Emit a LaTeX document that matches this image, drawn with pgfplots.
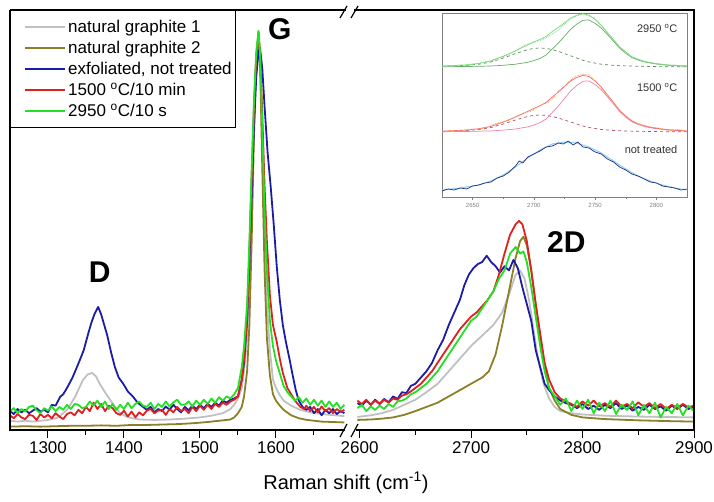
\documentclass[border=0pt]{standalone}
\usepackage{pgfplots}
\pgfplotsset{compat=1.18}
\usepackage{fontspec}
\setmainfont{Liberation Sans}
\definecolor{cGray}{HTML}{C0C0C0}
\definecolor{cOlive}{HTML}{8B8027}
\definecolor{cBlue}{HTML}{1C1CA8}
\definecolor{cRed}{HTML}{E02020}
\definecolor{cGreen}{HTML}{22E022}
\definecolor{iBlueD}{HTML}{203080}
\definecolor{iBlueL}{HTML}{8FD0F0}
\definecolor{iOrange}{HTML}{F0A040}
\definecolor{iPink}{HTML}{F080A8}
\definecolor{iPinkD}{HTML}{B05070}
\definecolor{iGreenL}{HTML}{80D880}
\definecolor{iGreenD}{HTML}{5E8A5E}

\pgfplotsset{
  mainax/.style={
    scale only axis, height=420pt, ymin=0, ymax=1, ytick=\empty,
    axis line style={draw=none}, clip=false,
    xtick pos=bottom, tick align=outside,
    major tick length=8pt, minor tick length=4.5pt,
    tick style={black, line width=1pt},
    xticklabel style={font=\fontsize{17}{17}\selectfont},
    scaled x ticks=false,
    /pgf/number format/assume math mode=true,
    /pgf/number format/set thousands separator={},
    every axis plot/.append style={line width=1.8pt, line join=round},
  },
  insetax/.style={
    scale only axis, ytick=\empty,
    axis line style={draw=gray, line width=0.6pt},
    axis background/.style={fill=white},
    xtick pos=bottom, tick align=outside,
    major tick length=3pt, minor tick length=2pt,
    tick style={gray, line width=0.5pt},
    xticklabel style={font=\fontsize{6}{6}\selectfont, gray},
    scaled x ticks=false,
    /pgf/number format/assume math mode=true,
    /pgf/number format/set thousands separator={},
    every axis plot/.append style={line width=0.7pt, line join=round},
  },
}

\begin{document}
\begin{tikzpicture}[x=1pt,y=1pt]
\useasboundingbox (0,0) rectangle (714,501);

% ---------------- left panel: D and G ----------------
\begin{axis}[mainax, at={(10pt,71pt)}, anchor=south west, width=340pt,
    xmin=1250, xmax=1697.4,
    xtick={1300,1400,1500,1600}, minor xtick={1350,1450,1550,1650},
    legend style={at={(0,1)}, anchor=north west, draw=black, line width=0.8pt,
      font=\fontsize{17}{19}\selectfont, inner xsep=2pt, inner ysep=6pt,
      nodes={inner sep=2pt, minimum height=21pt}},
    legend cell align={left},
    legend image code/.code={\path (-12pt,0pt); \draw[#1, line width=1.8pt] (0pt,0pt) -- (40pt,0pt);},
]
\addplot[cGray] table {
x y
1250 0.022
1260 0.020
1270 0.022
1280 0.020
1290 0.022
1300 0.024
1312 0.029
1318 0.037
1325 0.048
1330 0.062
1336 0.080
1341 0.100
1346 0.119
1352 0.132
1358 0.136
1363 0.128
1368 0.110
1375 0.090
1382 0.071
1388 0.055
1395 0.040
1402 0.033
1408 0.029
1420 0.025
1440 0.024
1460 0.025
1480 0.027
1500 0.030
1515 0.034
1530 0.040
1540 0.050
1545 0.060
1550 0.075
1555 0.100
1558 0.140
1562 0.220
1565 0.360
1568 0.550
1571 0.740
1574 0.880
1577 0.930
1579 0.880
1582 0.680
1585 0.450
1588 0.300
1592 0.190
1596 0.120
1600 0.100
1605 0.083
1610 0.070
1620 0.058
1632 0.048
1645 0.042
1660 0.038
1690 0.033
};
\addlegendentry{natural graphite 1}
\addplot[cOlive] table {
x y
1250 0.008
1270 0.009
1290 0.008
1310 0.009
1330 0.010
1350 0.010
1370 0.011
1390 0.010
1410 0.012
1430 0.012
1450 0.013
1470 0.014
1490 0.016
1510 0.019
1525 0.022
1540 0.025
1545 0.030
1550 0.040
1555 0.055
1558 0.080
1562 0.140
1565 0.250
1568 0.450
1571 0.700
1574 0.880
1577 0.950
1579 0.880
1582 0.620
1585 0.380
1588 0.220
1592 0.130
1596 0.085
1600 0.070
1605 0.058
1610 0.048
1620 0.035
1630 0.028
1641 0.024
1660 0.020
1690 0.018
};
\addlegendentry{natural graphite 2}
\addplot[cBlue] table {
x y
1250 0.045
1255 0.038
1260 0.050
1265 0.042
1270 0.048
1275 0.040
1280 0.046
1285 0.052
1290 0.044
1295 0.048
1300 0.042
1305 0.060
1310 0.058
1316 0.079
1320 0.085
1325 0.100
1332 0.124
1337 0.145
1342 0.167
1347 0.190
1353 0.230
1357 0.255
1361 0.275
1366 0.293
1370 0.275
1374 0.250
1378 0.225
1383 0.185
1388 0.150
1393 0.125
1399 0.110
1405 0.092
1412 0.079
1418 0.065
1425 0.055
1430 0.048
1435 0.055
1440 0.042
1445 0.050
1450 0.045
1455 0.056
1460 0.048
1465 0.060
1470 0.050
1475 0.042
1480 0.055
1485 0.047
1490 0.058
1495 0.050
1500 0.060
1505 0.052
1510 0.062
1515 0.055
1520 0.065
1525 0.058
1530 0.070
1535 0.065
1540 0.072
1545 0.075
1550 0.080
1555 0.120
1558 0.160
1562 0.260
1565 0.400
1568 0.560
1571 0.720
1574 0.840
1577 0.900
1579 0.910
1582 0.860
1585 0.770
1589 0.660
1593 0.580
1597 0.490
1601 0.390
1605 0.310
1609 0.250
1613 0.210
1618 0.167
1622 0.130
1626 0.095
1630 0.070
1635 0.055
1640 0.048
1645 0.055
1650 0.040
1655 0.050
1660 0.035
1665 0.048
1670 0.040
1675 0.050
1680 0.038
1685 0.045
1690 0.040
};
\addlegendentry{exfoliated, not treated}
\addplot[cRed] table {
x y
1250 0.035
1255 0.028
1260 0.038
1265 0.030
1270 0.026
1275 0.036
1280 0.034
1285 0.024
1290 0.038
1295 0.030
1300 0.036
1305 0.028
1310 0.040
1315 0.032
1320 0.026
1325 0.038
1330 0.042
1335 0.035
1340 0.048
1345 0.040
1350 0.055
1355 0.045
1360 0.065
1365 0.050
1370 0.062
1375 0.045
1380 0.058
1385 0.052
1390 0.040
1395 0.036
1400 0.046
1405 0.032
1410 0.044
1415 0.030
1420 0.042
1425 0.035
1430 0.046
1435 0.050
1440 0.040
1445 0.046
1450 0.048
1455 0.036
1460 0.050
1465 0.042
1470 0.055
1475 0.045
1480 0.050
1485 0.040
1490 0.055
1495 0.045
1500 0.058
1505 0.048
1510 0.060
1515 0.050
1520 0.062
1525 0.055
1530 0.065
1535 0.060
1540 0.068
1545 0.072
1550 0.080
1555 0.120
1558 0.170
1562 0.270
1565 0.420
1568 0.600
1571 0.770
1574 0.890
1577 0.940
1579 0.900
1582 0.750
1585 0.580
1588 0.450
1592 0.320
1596 0.250
1601 0.210
1605 0.170
1609 0.136
1615 0.100
1620 0.085
1625 0.070
1632 0.055
1637 0.050
1640 0.058
1645 0.045
1650 0.055
1655 0.042
1660 0.056
1665 0.045
1670 0.052
1675 0.040
1680 0.050
1685 0.043
1690 0.048
};
\addlegendentry{1500 \textsuperscript{o}C/10 min}
\addplot[cGreen] table {
x y
1250 0.045
1255 0.052
1260 0.040
1265 0.050
1270 0.044
1275 0.055
1280 0.058
1285 0.047
1290 0.040
1295 0.052
1300 0.046
1305 0.056
1310 0.045
1315 0.055
1320 0.048
1325 0.060
1330 0.050
1335 0.062
1340 0.060
1345 0.052
1350 0.055
1355 0.068
1360 0.058
1365 0.070
1370 0.055
1375 0.068
1380 0.050
1385 0.062
1390 0.048
1395 0.060
1400 0.050
1405 0.065
1410 0.052
1415 0.062
1420 0.068
1425 0.058
1430 0.055
1435 0.065
1440 0.050
1445 0.062
1450 0.055
1455 0.068
1460 0.056
1465 0.066
1470 0.072
1475 0.060
1480 0.060
1485 0.068
1490 0.056
1495 0.070
1500 0.060
1505 0.072
1510 0.062
1515 0.075
1520 0.065
1525 0.078
1530 0.070
1535 0.080
1540 0.075
1545 0.085
1550 0.100
1555 0.150
1558 0.200
1562 0.300
1565 0.450
1568 0.620
1571 0.780
1574 0.900
1577 0.950
1579 0.900
1582 0.720
1585 0.520
1588 0.380
1592 0.260
1596 0.200
1600 0.165
1605 0.135
1610 0.105
1615 0.090
1620 0.080
1625 0.070
1630 0.078
1635 0.065
1640 0.075
1645 0.060
1650 0.072
1655 0.058
1660 0.070
1665 0.055
1670 0.068
1675 0.055
1680 0.065
1685 0.050
1690 0.060
};
\addlegendentry{2950 \textsuperscript{o}C/10 s}
\draw[line width=1.2pt] (rel axis cs:0,1) -- (rel axis cs:0,0) -- (rel axis cs:1,0);
\draw[line width=1.2pt] (rel axis cs:0,1) -- (rel axis cs:1,1);
\node[font=\bfseries\fontsize{30}{30}\selectfont] at (axis cs:1368,0.376) {D};
\node[font=\bfseries\fontsize{30}{30}\selectfont] at (axis cs:1605,0.955) {G};
\end{axis}

% ---------------- right panel: 2D ----------------
\begin{axis}[mainax, at={(350pt,71pt)}, anchor=south west, width=344pt,
    xmin=2591.4, xmax=2900,
    xtick={2600,2700,2800,2900}, minor xtick={2650,2750,2850},
]
\addplot[cGray] table {
x y
2598 0.031
2610 0.035
2620 0.040
2630 0.048
2640 0.060
2650 0.072
2660 0.090
2670 0.110
2680 0.140
2690 0.170
2700 0.200
2710 0.225
2720 0.250
2728 0.280
2735 0.330
2740 0.370
2744 0.380
2748 0.360
2752 0.310
2756 0.240
2760 0.170
2765 0.110
2770 0.075
2775 0.055
2780 0.045
2790 0.040
2800 0.037
2820 0.034
2850 0.032
2900 0.030
};
\addplot[cOlive] table {
x y
2598 0.024
2610 0.025
2620 0.027
2630 0.030
2640 0.036
2650 0.045
2660 0.055
2670 0.065
2680 0.080
2690 0.095
2700 0.110
2710 0.125
2716 0.140
2722 0.180
2728 0.250
2734 0.330
2740 0.410
2744 0.450
2747 0.460
2750 0.440
2754 0.380
2758 0.300
2762 0.220
2766 0.150
2770 0.100
2775 0.070
2780 0.050
2790 0.036
2800 0.030
2820 0.026
2850 0.023
2880 0.021
2900 0.020
};
\addplot[cBlue] table {
x y
2598 0.064
2602 0.058
2606 0.070
2610 0.060
2614 0.072
2618 0.062
2622 0.074
2626 0.066
2630 0.080
2634 0.074
2638 0.090
2642 0.088
2646 0.105
2650 0.110
2655 0.125
2660 0.140
2665 0.160
2670 0.190
2675 0.215
2680 0.250
2685 0.280
2690 0.310
2694 0.345
2698 0.370
2702 0.385
2706 0.395
2710 0.400
2714 0.415
2718 0.400
2722 0.390
2726 0.375
2730 0.390
2734 0.380
2738 0.405
2742 0.385
2746 0.340
2750 0.300
2754 0.260
2758 0.190
2762 0.150
2766 0.110
2770 0.095
2775 0.080
2780 0.070
2785 0.064
2790 0.060
2795 0.052
2800 0.062
2805 0.050
2810 0.058
2815 0.048
2820 0.060
2825 0.052
2830 0.064
2835 0.050
2840 0.058
2845 0.046
2850 0.055
2855 0.048
2860 0.060
2865 0.050
2870 0.056
2875 0.046
2880 0.058
2885 0.050
2890 0.060
2895 0.050
2900 0.056
};
\addplot[cRed] table {
x y
2598 0.070
2602 0.062
2606 0.072
2610 0.060
2614 0.070
2618 0.062
2622 0.072
2626 0.065
2630 0.075
2634 0.072
2638 0.082
2642 0.085
2646 0.092
2650 0.100
2655 0.110
2660 0.125
2665 0.140
2670 0.160
2675 0.180
2680 0.200
2685 0.220
2690 0.240
2695 0.255
2700 0.270
2705 0.280
2710 0.295
2715 0.310
2720 0.330
2725 0.370
2730 0.420
2735 0.465
2740 0.490
2743 0.498
2746 0.490
2750 0.450
2754 0.380
2758 0.300
2762 0.230
2766 0.160
2770 0.120
2775 0.090
2780 0.075
2785 0.068
2790 0.062
2795 0.055
2800 0.068
2805 0.058
2810 0.070
2815 0.056
2820 0.064
2825 0.055
2830 0.070
2835 0.056
2840 0.062
2845 0.052
2850 0.066
2855 0.055
2860 0.064
2865 0.052
2870 0.062
2875 0.050
2880 0.060
2885 0.052
2890 0.062
2895 0.054
2900 0.058
};
\addplot[cGreen] table {
x y
2598 0.052
2602 0.060
2606 0.045
2610 0.056
2614 0.048
2618 0.058
2622 0.050
2626 0.062
2630 0.055
2634 0.068
2638 0.070
2642 0.075
2646 0.085
2650 0.090
2655 0.100
2660 0.110
2665 0.125
2670 0.140
2675 0.160
2680 0.180
2685 0.200
2690 0.220
2695 0.240
2700 0.260
2705 0.270
2710 0.290
2715 0.310
2720 0.330
2725 0.360
2730 0.380
2735 0.420
2740 0.436
2744 0.420
2747 0.425
2750 0.400
2754 0.340
2758 0.270
2762 0.200
2766 0.140
2770 0.100
2775 0.080
2780 0.060
2785 0.075
2790 0.045
2795 0.070
2800 0.050
2805 0.072
2810 0.040
2815 0.065
2820 0.045
2825 0.070
2830 0.038
2835 0.060
2840 0.048
2845 0.068
2850 0.035
2855 0.060
2860 0.040
2865 0.065
2870 0.030
2875 0.055
2880 0.040
2885 0.062
2890 0.035
2895 0.058
2900 0.045
};
\draw[line width=1.2pt] (rel axis cs:0,0) -- (rel axis cs:1,0) -- (rel axis cs:1,1) -- (rel axis cs:0,1);
\node[font=\bfseries\fontsize{30}{30}\selectfont] at (axis cs:2785.5,0.448) {2D};
\end{axis}

% ---------------- inset: 2D band fits ----------------
\begin{axis}[insetax, at={(442pt,304pt)}, anchor=south west, width=245pt, height=184pt,
    xmin=2625, xmax=2825, ymin=0, ymax=184,
    xtick={2650,2700,2750,2800}, minor xtick={2675,2725,2775},
]
% not treated
\addplot[iBlueL, line width=1pt] table {
x y
2625 7
2640 9
2655 12
2665 16
2675 22
2685 30
2695 39
2705 47
2715 53
2725 55
2735 54
2745 50
2755 44
2765 36
2775 28
2785 21
2795 16
2805 12
2815 9
2825 7
};
\addplot[iBlueD] table {
x y
2625 6
2630 8
2635 7
2640 9
2645 8
2650 11
2655 12
2660 14
2665 15
2670 19
2675 21
2680 25
2685 31
2688 36
2691 34
2695 40
2700 43
2705 46
2710 50
2715 51
2720 54
2724 53
2728 56
2732 52
2736 55
2740 50
2745 49
2750 45
2755 43
2760 38
2765 35
2770 30
2775 27
2780 23
2785 21
2790 18
2795 15
2800 14
2805 11
2810 10
2815 9
2820 7
2825 8
};
% 1500 C
\addplot[iPinkD, dashed] table {
x y
2625 65.5
2635 66.0
2645 66.5
2655 67.5
2665 69.5
2675 73.0
2685 77.0
2695 80.5
2700 81.6
2705 82.0
2710 81.6
2715 80.5
2720 79.0
2725 77.0
2730 75.0
2735 73.0
2740 71.0
2745 69.5
2750 68.5
2755 67.5
2760 67.0
2765 66.5
2770 66.2
2775 66.0
2785 65.7
2800 65.4
2825 65.2
};
\addplot[iPink] table {
x y
2625 65.3
2635 65.4
2645 65.5
2655 65.8
2665 66.1
2675 66.9
2685 68.0
2695 70.1
2700 72.0
2705 74.3
2710 78.0
2715 84.5
2720 91.0
2725 98.5
2730 106.0
2735 111.5
2740 115.7
2743 116.0
2745 116.0
2750 112.4
2755 107.3
2760 100.3
2765 93.0
2770 85.5
2775 79.9
2780 75.2
2785 72.6
2790 70.6
2795 69.3
2800 68.3
2810 67.0
2825 65.9
};
\addplot[iPink!80!red] table {
x y
2625 65.8
2635 66.4
2645 67.0
2655 68.3
2665 70.6
2675 74.9
2685 80.0
2695 85.6
2700 88.6
2705 91.3
2710 94.6
2715 100.0
2720 105.0
2725 110.5
2730 116.0
2735 119.5
2740 121.7
2745 120.5
2750 115.9
2755 109.8
2760 102.3
2765 94.5
2770 86.7
2775 80.9
2780 76.0
2785 73.3
2790 71.2
2795 69.8
2800 68.7
2810 67.2
2825 66.0
};
\addplot[iOrange, densely dotted, line width=0.9pt] table {
x y
2625 65.0
2632 66.5
2640 65.5
2648 67.5
2655 68.0
2662 69.5
2668 73.0
2674 75.0
2680 77.0
2686 81.0
2692 84.0
2698 86.0
2703 90.0
2708 93.0
2712 95.0
2716 99.0
2720 106.0
2725 111.0
2730 117.0
2735 121.0
2740 123.0
2745 122.0
2750 116.0
2755 110.0
2760 101.0
2765 95.0
2770 86.0
2776 80.0
2782 75.0
2788 72.0
2795 70.0
2802 69.0
2810 66.5
2818 67.5
2825 65.5
};
% 2950 C
\addplot[iGreenD, dashed] table {
x y
2625 130.6
2635 131.1
2645 131.7
2655 132.8
2665 135.0
2675 139.0
2685 143.4
2695 147.4
2700 148.6
2705 149.0
2710 148.6
2715 147.4
2720 145.7
2725 143.4
2730 141.2
2735 139.0
2740 136.7
2745 135.0
2750 133.9
2755 132.8
2760 132.2
2765 131.7
2770 131.3
2775 131.1
2785 130.8
2800 130.4
2825 130.2
};
\addplot[iGreenL!80!black] table {
x y
2625 130.3
2635 130.4
2645 130.5
2655 130.7
2665 131.0
2675 131.7
2685 132.8
2695 134.7
2700 136.4
2705 138.6
2710 142.0
2715 148.0
2720 154.0
2725 160.8
2730 167.7
2735 172.8
2740 176.6
2743 177.0
2745 176.9
2750 173.6
2755 168.9
2760 162.5
2765 155.8
2770 148.9
2775 143.7
2780 139.4
2785 137.0
2790 135.2
2795 134.0
2800 133.0
2810 131.8
2825 130.8
};
\addplot[iGreenL] table {
x y
2625 130.9
2635 131.5
2645 132.2
2655 133.5
2665 136.0
2675 140.7
2685 146.2
2695 152.1
2700 155.0
2705 157.6
2710 160.6
2715 165.4
2720 169.7
2725 174.2
2730 178.9
2735 181.8
2740 183.3
2745 181.9
2750 177.5
2755 171.7
2760 164.7
2765 157.5
2770 150.2
2775 144.8
2780 140.2
2785 137.8
2790 135.8
2795 134.4
2800 133.4
2810 132.0
2825 131.0
};
\addplot[iGreenL, densely dotted, line width=0.9pt] table {
x y
2625 130.0
2630 131.5
2635 130.5
2640 132.0
2645 131.0
2650 133.0
2655 133.5
2660 135.0
2665 136.0
2670 139.0
2675 140.5
2680 143.0
2685 146.0
2690 150.0
2695 153.0
2700 155.0
2705 156.5
2710 159.0
2715 163.0
2720 167.0
2725 173.0
2730 178.0
2735 181.0
2740 183.0
2745 181.0
2750 178.5
2755 171.0
2760 164.0
2765 157.0
2770 150.0
2775 145.0
2780 140.0
2785 137.5
2790 135.0
2795 134.5
2800 133.0
2805 132.5
2810 131.0
2815 132.0
2820 130.0
2825 131.0
};
\node[anchor=east, font=\fontsize{11}{11}\selectfont, black!80] at (axis cs:2820,169) {2950 \textsuperscript{o}C};
\node[anchor=east, font=\fontsize{11}{11}\selectfont, black!80] at (axis cs:2820,110) {1500 \textsuperscript{o}C};
\node[anchor=east, font=\fontsize{11}{11}\selectfont, black!80] at (axis cs:2820,47) {not treated};
\end{axis}

% ---------------- axis break marks and label ----------------
\fill[white] (345,62) rectangle (356,80);
\draw[line width=1.2pt] (340,64) -- (347,77);
\draw[line width=1.2pt] (351,64) -- (358,77);
\fill[white] (346,484) rectangle (354,498);
\draw[line width=1.2pt] (340,483) -- (347,495);
\draw[line width=1.2pt] (351,483) -- (358,495);
\node[font=\fontsize{20}{20}\selectfont] at (346,18) {Raman shift (cm\textsuperscript{-1})};
\end{tikzpicture}
\end{document}
